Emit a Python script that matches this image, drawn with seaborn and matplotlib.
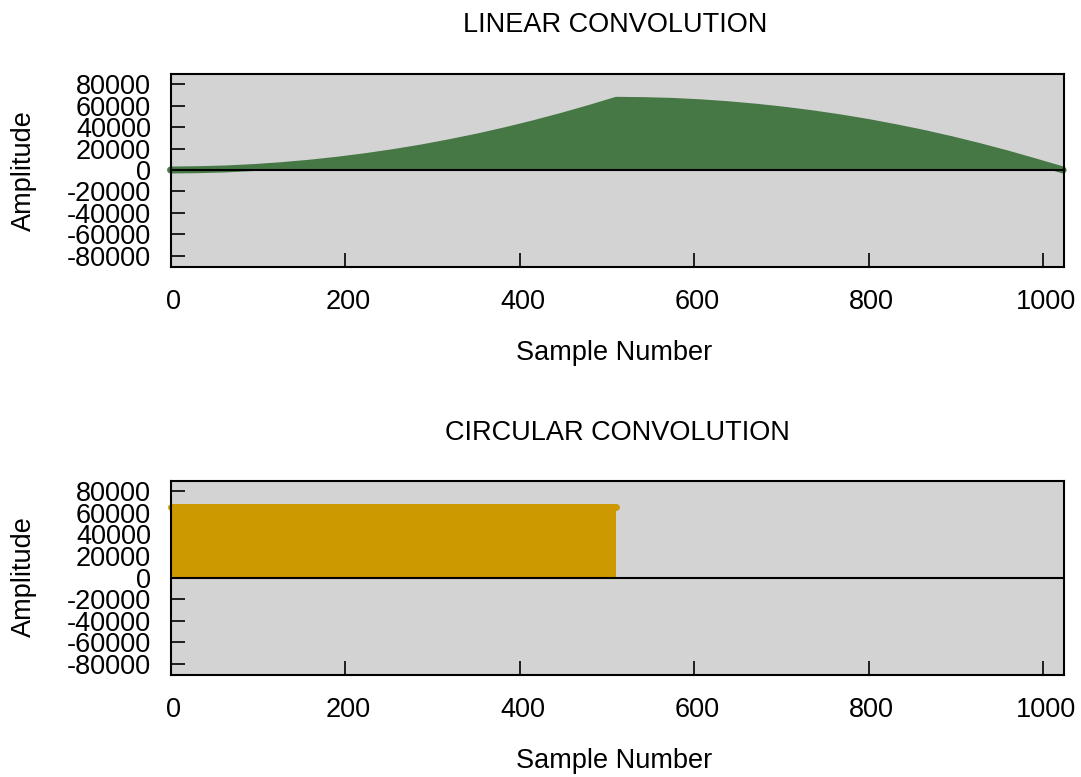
import matplotlib
matplotlib.use("Agg")
import matplotlib.pyplot as plt
import matplotlib.transforms as mtransforms
import seaborn as sns

# linear convolution, values
lin_n = [0, 32, 64, 96, 128, 160, 192, 224, 256, 288, 320, 352, 384, 416, 448, 480, 511,
         543, 575, 607, 639, 671, 703, 735, 767, 799, 831, 863, 895, 927, 959, 991, 1023]
lin_amp = [0, 300, 1000, 2300, 4100, 6400, 9200, 12500, 16300, 20600, 25500, 30800, 36700,
           43100, 50000, 57400, 65000,
           64700, 64000, 62700, 60900, 58600, 55800, 52500, 48700, 44400, 39500, 34200,
           28300, 21900, 15000, 7600, 0]

# circular convolution (flat over the first 512 samples)
circ_n = [0, 511]
circ_amp = [65000, 65000]

x_ticks = [0, 200, 400, 600, 800, 1000]
y_ticks = [-80000, -60000, -40000, -20000, 0, 20000, 40000, 60000, 80000]

sns.set_theme(style="white")
plt.rcParams["font.family"] = ["Liberation Sans", "DejaVu Sans"]
plt.rcParams["axes.unicode_minus"] = False
plt.rcParams["text.color"] = "black"
plt.rcParams["xtick.color"] = "black"
plt.rcParams["ytick.color"] = "black"

FS = 19.5
W, H = 1081, 777
fig = plt.figure(figsize=(W / 100, H / 100), dpi=100)
ax1 = fig.add_axes([170.5 / W, 1 - 266.5 / H, 893.5 / W, 193 / H])
ax2 = fig.add_axes([170.5 / W, 1 - 674.5 / H, 893.5 / W, 194 / H])

# gnuplot puts x tick labels a few pixels right of the tick
shift = mtransforms.ScaledTranslation(3 / 100, 0, fig.dpi_scale_trans)


def panel(ax, n, amp, color):
    ax.set_facecolor("#d3d3d3")
    ax.fill_between(n, 0, amp, color=color, lw=0, zorder=2)
    sns.lineplot(x=n, y=amp, ax=ax, color=color, lw=5, solid_capstyle="round",
                 clip_on=False, zorder=3)
    ax.axhline(0, color="black", lw=1.5, zorder=4)
    ax.set_xlim(0, 1024)
    ax.set_ylim(-90000, 90000)
    ax.set_xticks(x_ticks)
    ax.set_yticks(y_ticks)
    ax.set_xticklabels([str(t) for t in x_ticks])
    ax.set_yticklabels([str(t) for t in y_ticks])
    ax.tick_params(direction="in", length=10, width=1.2, labelsize=FS, color="black",
                   labelcolor="black", bottom=True, left=True, top=False, right=False)
    ax.tick_params(axis="y", pad=14)
    ax.tick_params(axis="x", pad=16)
    for lab in ax.get_xticklabels():
        lab.set_transform(lab.get_transform() + shift)
    ax.set_xlabel("")
    ax.set_ylabel("")
    for s in ax.spines.values():
        s.set_color("black")
        s.set_linewidth(1.5)
        s.set_zorder(5)


panel(ax1, lin_n, lin_amp, "#467846")
panel(ax2, circ_n, circ_amp, "#cc9900")

fig.text(615 / W, 1 - 32 / H, "LINEAR CONVOLUTION", ha="center", va="baseline", fontsize=FS)
fig.text(617 / W, 1 - 440 / H, "CIRCULAR CONVOLUTION", ha="center", va="baseline", fontsize=FS)
fig.text(614 / W, 1 - 360 / H, "Sample Number", ha="center", va="baseline", fontsize=FS)
fig.text(614 / W, 1 - 768 / H, "Sample Number", ha="center", va="baseline", fontsize=FS)
fig.text(23.5 / W, 1 - 171 / H, "Amplitude", ha="center", va="center", rotation=90, fontsize=FS)
fig.text(23.5 / W, 1 - 577 / H, "Amplitude", ha="center", va="center", rotation=90, fontsize=FS)

fig.savefig("out.png", dpi=100)
